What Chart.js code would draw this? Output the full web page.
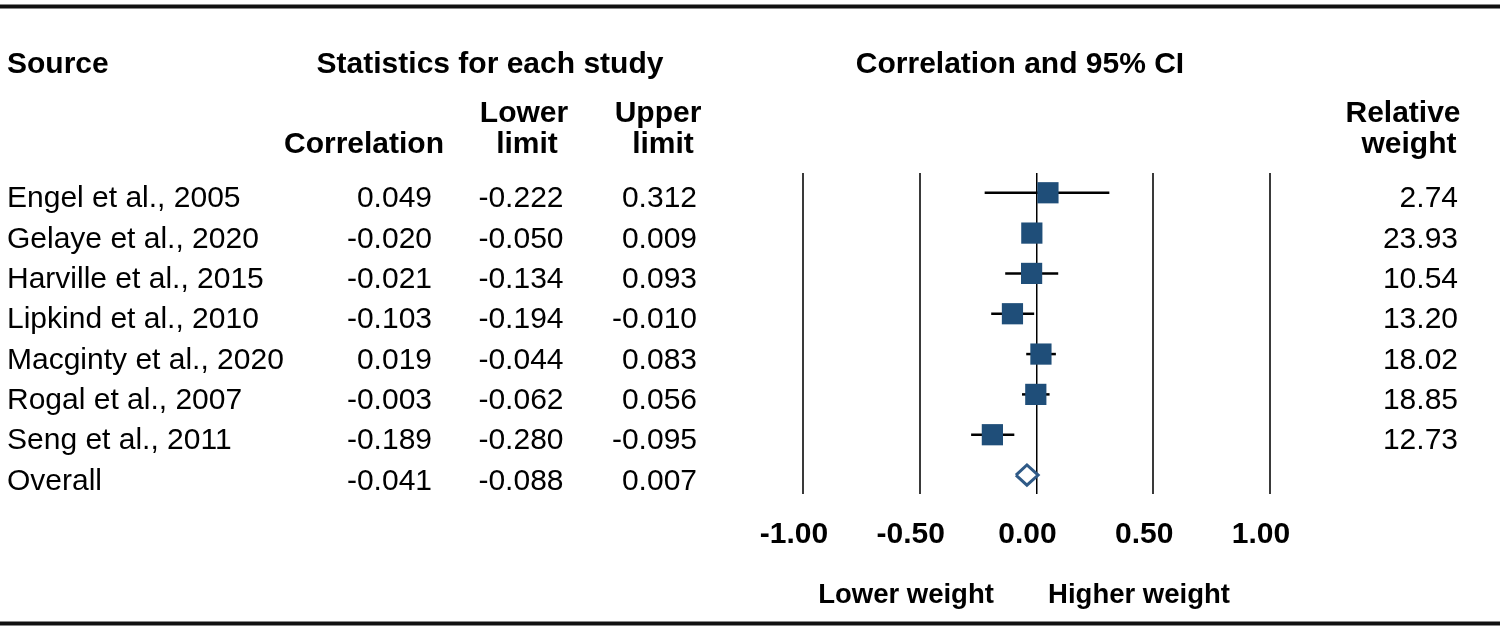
<!DOCTYPE html>
<html><head><meta charset="utf-8">
<script src="https://cdn.jsdelivr.net/npm/chart.js@4.4.1/dist/chart.umd.min.js"></script>
<style>html,body{margin:0;padding:0;background:#fff;overflow:hidden}canvas{display:block}</style>
</head><body>
<canvas id="c" width="1500" height="628"></canvas>
<script>
const studies = ['Engel et al., 2005','Gelaye et al., 2020','Harville et al., 2015','Lipkind et al., 2010','Macginty et al., 2020','Rogal et al., 2007','Seng et al., 2011'];
const correlation = [0.049, -0.020, -0.021, -0.103, 0.019, -0.003, -0.189];
const lowerLimit = [-0.222, -0.050, -0.134, -0.194, -0.044, -0.062, -0.280];
const upperLimit = [0.312, 0.009, 0.093, -0.010, 0.083, 0.056, -0.095];
const relativeWeight = [2.74, 23.93, 10.54, 13.20, 18.02, 18.85, 12.73];
const overallLabel = 'Overall';
const overallCorrelation = -0.041;
const overallLower = -0.088;
const overallUpper = 0.007;
const tickValues = [-1, -0.5, 0, 0.5, 1];
const tickLabels = ['-1.00', '-0.50', '0.00', '0.50', '1.00'];

const FONT = '"Liberation Sans", Arial, sans-serif';
const overallRow = studies.length;

const ciDatasets = studies.map((s, i) => ({
  type: 'line', label: s + ' CI',
  data: [{x: lowerLimit[i], y: i}, {x: upperLimit[i], y: i}],
  borderColor: '#000', borderWidth: 2.5, pointRadius: 0, order: 2
}));
const squares = {
  type: 'scatter', label: 'Correlation',
  data: correlation.map((v, i) => ({x: v, y: i})),
  pointStyle: 'rect', pointRadius: 15, pointHoverRadius: 15,
  backgroundColor: '#1f4e79', borderWidth: 0, order: 0
};
const diamond = {
  type: 'line', label: overallLabel,
  data: [
    {x: overallLower, y: overallRow},
    {x: overallCorrelation, y: overallRow - 0.25},
    {x: overallUpper, y: overallRow},
    {x: overallCorrelation, y: overallRow + 0.25},
    {x: overallLower, y: overallRow}
  ],
  borderColor: '#2f5a87', borderWidth: 3, pointRadius: 0, tension: 0, fill: false,
  borderJoinStyle: 'miter', order: 1
};

const tablePlugin = {
  id: 'table',
  afterDraw(chart) {
    const ctx = chart.ctx, ys = chart.scales.y;
    ctx.save();
    ctx.fillStyle = '#111';
    ctx.fillRect(0, 4.5, 1500, 4);
    ctx.fillRect(0, 621.5, 1500, 4);
    ctx.fillStyle = '#000';
    ctx.textBaseline = 'alphabetic';
    const B = 'bold 30px ' + FONT, N = '30px ' + FONT, B2 = 'bold 27.5px ' + FONT;
    const txt = (s, x, y, align, font) => { ctx.font = font; ctx.textAlign = align; ctx.fillText(s, x, y); };
    txt('Source', 7, 73, 'left', B);
    txt('Statistics for each study', 490, 73, 'center', B);
    txt('Correlation and 95% CI', 1020, 73, 'center', B);
    txt('Correlation', 364, 153, 'center', B);
    txt('Lower', 524, 122, 'center', B);
    txt('limit', 527, 153, 'center', B);
    txt('Upper', 658, 122, 'center', B);
    txt('limit', 663, 153, 'center', B);
    txt('Relative', 1403, 122, 'center', B);
    txt('weight', 1409, 153, 'center', B);
    const names = studies.concat([overallLabel]);
    const corr = correlation.concat([overallCorrelation]);
    const lo = lowerLimit.concat([overallLower]);
    const hi = upperLimit.concat([overallUpper]);
    names.forEach((n, i) => {
      const y = ys.getPixelForValue(i) + 14.5;
      txt(n, 7, y, 'left', N);
      txt(corr[i].toFixed(3), 432, y, 'right', N);
      txt(lo[i].toFixed(3), 563.5, y, 'right', N);
      txt(hi[i].toFixed(3), 697, y, 'right', N);
      if (i < relativeWeight.length) txt(relativeWeight[i].toFixed(2), 1458, y, 'right', N);
    });
    txt('Lower weight', 906, 603, 'center', B2);
    txt('Higher weight', 1139, 603, 'center', B2);
    ctx.restore();
  }
};

new Chart(document.getElementById('c'), {
  type: 'scatter',
  data: { datasets: [squares, diamond, ...ciDatasets] },
  options: {
    responsive: false, animation: false, devicePixelRatio: 1,
    layout: { padding: { left: 803, right: 230, top: 173, bottom: 52 } },
    plugins: { legend: { display: false }, tooltip: { enabled: false } },
    scales: {
      x: {
        type: 'linear', min: -1, max: 1, position: 'bottom',
        afterBuildTicks: s => { s.ticks = tickValues.map(v => ({ value: v })); },
        grid: {
          drawTicks: false,
          color: c => (c.tick && c.tick.value === 0) ? '#000' : '#3a3a3a',
          lineWidth: c => (c.tick && c.tick.value === 0) ? 1.5 : 2
        },
        border: { display: false },
        ticks: {
          padding: 23, labelOffset: -9, color: '#000', maxRotation: 0, autoSkip: false,
          font: { family: FONT, size: 30, weight: 'bold' },
          callback: (v, i) => tickLabels[i]
        }
      },
      y: { type: 'linear', reverse: true, min: -0.49, max: 7.47, display: false }
    }
  },
  plugins: [tablePlugin]
});
</script>
</body></html>
